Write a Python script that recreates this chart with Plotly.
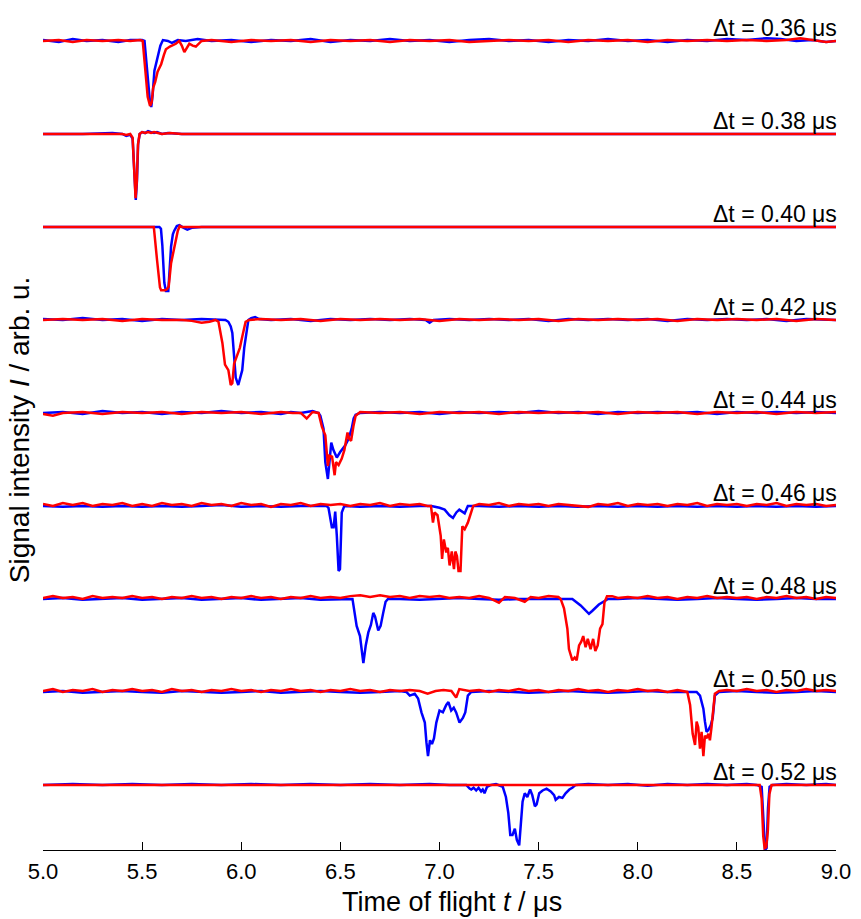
import plotly.graph_objects as go

# Time-of-flight traces for each delay: (t in µs, signal in arb. u.)
delays = ["0.36", "0.38", "0.40", "0.42", "0.44", "0.46", "0.48", "0.50", "0.52"]

blue_036 = [(5.00, 0.01), (5.08, -0.01), (5.15, 0.02), (5.22, 0.00), (5.30, 0.01), (5.38, -0.01), (5.44, 0.01),
            (5.50, 0.01), (5.512, 0.00), (5.525, -0.35), (5.538, -0.62), (5.546, -0.71), (5.553, -0.58),
            (5.562, -0.32), (5.572, -0.23), (5.582, -0.16), (5.592, -0.05), (5.605, 0.01), (5.63, 0.00),
            (5.65, -0.02), (5.68, 0.01), (5.72, 0.00), (5.78, 0.02), (5.85, 0.00), (5.95, 0.01), (6.05, -0.01),
            (6.15, 0.01), (6.25, 0.00), (6.35, 0.02), (6.45, -0.01), (6.55, 0.01), (6.65, 0.00), (6.75, 0.02),
            (6.85, 0.00), (6.95, 0.01), (7.05, -0.01), (7.15, 0.01), (7.25, 0.02), (7.35, 0.00), (7.45, 0.01),
            (7.55, -0.01), (7.65, 0.01), (7.75, 0.00), (7.85, 0.02), (7.95, 0.00), (8.05, 0.01), (8.15, -0.01),
            (8.25, 0.01), (8.35, 0.00), (8.45, 0.02), (8.55, 0.01), (8.65, 0.03), (8.72, 0.02), (8.80, 0.00),
            (8.88, 0.01), (8.95, -0.01), (9.00, 0.00)]
red_036 = [(5.00, 0.00), (5.08, 0.01), (5.15, -0.01), (5.22, 0.01), (5.30, 0.00), (5.38, 0.01), (5.44, 0.00),
           (5.49, 0.01), (5.503, 0.00), (5.515, -0.30), (5.528, -0.60), (5.54, -0.70), (5.548, -0.66),
           (5.556, -0.50), (5.566, -0.44), (5.578, -0.33), (5.596, -0.25), (5.61, -0.15), (5.62, -0.09),
           (5.64, -0.06), (5.67, -0.03), (5.687, 0.00), (5.70, -0.05), (5.713, -0.12), (5.725, -0.07),
           (5.738, -0.03), (5.755, -0.05), (5.771, -0.06), (5.80, 0.00), (5.85, 0.01), (5.95, -0.01),
           (6.05, 0.01), (6.15, 0.00), (6.25, 0.01), (6.35, -0.01), (6.45, 0.01), (6.55, 0.00), (6.65, 0.01),
           (6.75, -0.01), (6.85, 0.01), (6.95, 0.00), (7.05, 0.01), (7.15, -0.01), (7.25, 0.00), (7.35, 0.01),
           (7.45, 0.00), (7.55, 0.01), (7.65, -0.01), (7.75, 0.01), (7.85, 0.00), (7.95, 0.01), (8.05, -0.01),
           (8.15, 0.01), (8.25, 0.00), (8.35, 0.01), (8.45, 0.00), (8.55, 0.01), (8.65, 0.00), (8.75, 0.01),
           (8.82, 0.03), (8.88, 0.01), (8.95, -0.01), (9.00, 0.00)]

blue_038 = [(5.00, 0.00), (5.20, 0.00), (5.35, 0.01), (5.40, 0.00), (5.42, -0.02), (5.44, -0.01),
            (5.452, -0.05), (5.462, -0.45), (5.468, -0.71), (5.474, -0.50), (5.48, -0.10), (5.488, 0.00),
            (5.50, 0.02), (5.515, 0.01), (5.53, 0.03), (5.545, 0.02), (5.56, 0.01), (5.575, 0.02), (5.60, 0.00),
            (5.63, 0.01), (5.70, 0.00), (6.00, 0.00), (6.50, 0.00), (7.00, 0.00), (7.50, 0.00), (8.00, 0.00),
            (8.50, 0.00), (9.00, 0.00)]
red_038 = [(5.00, 0.00), (5.20, 0.00), (5.35, 0.00), (5.40, 0.00), (5.42, -0.01), (5.44, 0.00),
           (5.452, -0.04), (5.461, -0.42), (5.467, -0.69), (5.473, -0.52), (5.479, -0.12), (5.487, 0.00),
           (5.50, 0.02), (5.515, 0.01), (5.53, 0.02), (5.545, 0.01), (5.56, 0.02), (5.58, 0.01), (5.60, 0.00),
           (5.64, 0.01), (5.70, 0.00), (6.00, 0.00), (6.50, 0.00), (7.00, 0.00), (7.50, 0.00), (8.00, 0.00),
           (8.50, 0.00), (9.00, 0.00)]

blue_040 = [(5.00, 0.00), (5.20, 0.00), (5.40, 0.00), (5.55, 0.00), (5.587, 0.00), (5.595, -0.02),
            (5.602, -0.20), (5.612, -0.60), (5.62, -0.69), (5.632, -0.69), (5.64, -0.45), (5.646, -0.21),
            (5.655, -0.08), (5.662, -0.04), (5.675, 0.01), (5.688, 0.02), (5.71, -0.01), (5.728, -0.03),
            (5.75, -0.01), (5.80, 0.00), (6.00, 0.00), (6.50, 0.00), (7.00, 0.00), (7.50, 0.00), (8.00, 0.00),
            (8.50, 0.00), (9.00, 0.00)]
red_040 = [(5.00, 0.00), (5.20, 0.00), (5.40, 0.00), (5.55, 0.00), (5.559, 0.00), (5.575, -0.35),
           (5.59, -0.65), (5.596, -0.68), (5.615, -0.68), (5.625, -0.67), (5.634, -0.64), (5.646, -0.39),
           (5.66, -0.25), (5.671, -0.14), (5.68, -0.04), (5.69, 0.01), (5.70, 0.00), (6.00, 0.00), (6.50, 0.00),
           (7.00, 0.00), (7.50, 0.00), (8.00, 0.00), (8.50, 0.00), (9.00, 0.00)]

blue_042 = [(5.00, 0.01), (5.10, 0.00), (5.20, 0.02), (5.30, 0.00), (5.40, 0.01), (5.50, -0.01), (5.60, 0.01),
            (5.70, 0.00), (5.80, 0.01), (5.88, 0.00), (5.92, 0.00), (5.935, -0.02), (5.947, -0.07),
            (5.955, -0.14), (5.964, -0.43), (5.972, -0.62), (5.985, -0.70), (5.997, -0.61), (6.005, -0.54),
            (6.015, -0.30), (6.022, -0.18), (6.03, -0.05), (6.036, 0.00), (6.05, 0.02), (6.07, 0.03),
            (6.09, 0.01), (6.15, 0.00), (6.25, 0.01), (6.35, -0.01), (6.45, 0.01), (6.55, 0.00), (6.65, 0.01),
            (6.75, 0.00), (6.85, 0.01), (6.93, 0.00), (6.95, -0.03), (6.97, 0.00), (7.05, 0.01), (7.15, 0.00),
            (7.25, 0.01), (7.35, 0.00), (7.45, 0.01), (7.55, -0.01), (7.65, 0.01), (7.75, 0.00), (7.85, 0.01),
            (7.95, 0.00), (8.05, 0.01), (8.15, -0.01), (8.25, 0.01), (8.35, 0.00), (8.45, 0.01), (8.55, 0.00),
            (8.65, 0.01), (8.75, -0.01), (8.85, 0.01), (8.95, 0.00), (9.00, 0.00)]
red_042 = [(5.00, 0.00), (5.10, 0.01), (5.20, 0.00), (5.30, 0.01), (5.40, -0.01), (5.50, 0.01), (5.60, 0.00),
           (5.70, 0.00), (5.75, -0.01), (5.80, -0.03), (5.84, -0.02), (5.87, 0.00), (5.885, -0.02),
           (5.895, -0.12), (5.905, -0.25), (5.918, -0.48), (5.928, -0.52), (5.935, -0.54), (5.947, -0.70),
           (5.955, -0.68), (5.964, -0.47), (5.972, -0.42), (5.98, -0.39), (5.993, -0.30), (6.005, -0.18),
           (6.015, -0.06), (6.022, -0.02), (6.04, 0.00), (6.10, 0.01), (6.20, 0.00), (6.30, 0.01),
           (6.40, -0.01), (6.50, 0.01), (6.60, 0.00), (6.70, 0.01), (6.80, 0.00), (6.90, 0.01), (7.00, -0.01),
           (7.10, 0.01), (7.20, 0.00), (7.30, 0.01), (7.40, 0.00), (7.50, 0.01), (7.60, -0.01), (7.70, 0.01),
           (7.80, 0.00), (7.90, 0.01), (8.00, 0.00), (8.10, 0.01), (8.20, -0.01), (8.30, 0.01), (8.40, 0.00),
           (8.50, 0.01), (8.60, 0.00), (8.70, 0.01), (8.80, -0.01), (8.90, 0.01), (9.00, 0.00)]

blue_044 = [(5.00, 0.00), (5.10, 0.01), (5.20, -0.01), (5.30, 0.02), (5.40, 0.00), (5.50, 0.01),
            (5.60, -0.01), (5.70, 0.01), (5.80, 0.00), (5.90, 0.02), (6.00, 0.00), (6.10, 0.01),
            (6.20, -0.01), (6.25, 0.01), (6.30, 0.00), (6.36, 0.02), (6.39, 0.00), (6.399, -0.03),
            (6.415, -0.17), (6.424, -0.53), (6.437, -0.71), (6.445, -0.53), (6.454, -0.32), (6.465, -0.40),
            (6.482, -0.48), (6.499, -0.42), (6.524, -0.35), (6.541, -0.28), (6.557, -0.17), (6.567, -0.06),
            (6.577, -0.02), (6.60, 0.00), (6.70, 0.01), (6.80, 0.00), (6.90, 0.01), (7.00, -0.01), (7.10, 0.01),
            (7.20, 0.00), (7.30, 0.01), (7.40, 0.00), (7.50, 0.02), (7.60, 0.00), (7.70, 0.01), (7.80, -0.01),
            (7.90, 0.01), (8.00, 0.00), (8.10, 0.01), (8.20, 0.00), (8.30, 0.01), (8.40, -0.01), (8.50, 0.01),
            (8.60, 0.00), (8.70, 0.01), (8.80, 0.00), (8.90, 0.01), (9.00, 0.00)]
red_044 = [(5.00, -0.01), (5.05, -0.03), (5.10, 0.00), (5.20, 0.01), (5.30, -0.01), (5.40, 0.01),
           (5.50, 0.00), (5.60, 0.01), (5.70, -0.01), (5.80, 0.01), (5.90, 0.00), (6.00, 0.01), (6.10, -0.01),
           (6.20, 0.01), (6.26, 0.00), (6.30, 0.00), (6.33, -0.06), (6.36, 0.01), (6.39, 0.00),
           (6.407, -0.15), (6.424, -0.24), (6.437, -0.57), (6.445, -0.46), (6.458, -0.47), (6.471, -0.67),
           (6.478, -0.53), (6.491, -0.56), (6.507, -0.49), (6.52, -0.40), (6.536, -0.21), (6.545, -0.28),
           (6.554, -0.30), (6.566, -0.14), (6.577, -0.03), (6.60, 0.01), (6.70, 0.00), (6.80, 0.01),
           (6.90, -0.01), (7.00, 0.01), (7.10, 0.00), (7.20, 0.01), (7.30, -0.01), (7.40, 0.01), (7.50, 0.00),
           (7.60, 0.01), (7.70, 0.00), (7.80, 0.01), (7.90, -0.01), (8.00, 0.01), (8.10, 0.00), (8.20, 0.01),
           (8.30, -0.01), (8.40, 0.01), (8.50, 0.00), (8.60, 0.01), (8.70, -0.01), (8.80, 0.01), (8.90, 0.00),
           (9.00, 0.01)]

blue_046 = [(5.00, 0.00), (5.10, -0.01), (5.20, 0.00), (5.30, -0.01), (5.40, 0.00), (5.50, -0.01),
            (5.60, 0.00), (5.70, -0.01), (5.80, 0.00), (5.90, 0.01), (6.00, -0.01), (6.10, 0.00),
            (6.20, -0.01), (6.30, 0.00), (6.40, 0.00), (6.43, 0.00), (6.44, -0.02), (6.457, -0.23),
            (6.466, -0.23), (6.474, -0.06), (6.482, -0.32), (6.491, -0.70), (6.498, -0.68), (6.507, -0.07),
            (6.52, 0.00), (6.60, -0.01), (6.70, 0.00), (6.80, -0.01), (6.90, 0.00), (6.959, 0.00),
            (7.00, -0.02), (7.026, -0.04), (7.05, -0.10), (7.068, -0.13), (7.085, -0.07), (7.10, -0.04),
            (7.127, -0.08), (7.143, 0.00), (7.20, 0.00), (7.30, -0.01), (7.40, 0.00), (7.50, -0.01),
            (7.60, 0.00), (7.70, -0.01), (7.80, 0.00), (7.90, -0.01), (8.00, 0.00), (8.10, -0.01), (8.20, 0.00),
            (8.30, -0.01), (8.40, 0.00), (8.50, -0.01), (8.60, 0.00), (8.70, -0.01), (8.80, 0.00),
            (8.90, -0.01), (9.00, 0.00)]
red_046 = [(5.00, 0.02), (5.05, 0.00), (5.10, 0.03), (5.15, 0.01), (5.20, 0.03), (5.25, 0.00), (5.30, 0.02),
           (5.35, 0.01), (5.40, 0.03), (5.45, 0.00), (5.50, 0.02), (5.55, 0.00), (5.60, 0.03), (5.65, 0.01),
           (5.70, 0.02), (5.75, 0.00), (5.80, 0.03), (5.85, 0.01), (5.90, 0.02), (5.95, 0.00), (6.00, 0.03),
           (6.05, 0.01), (6.10, 0.02), (6.15, -0.01), (6.20, 0.02), (6.25, 0.01), (6.30, 0.03), (6.35, 0.00),
           (6.40, 0.02), (6.45, 0.01), (6.50, 0.02), (6.55, 0.00), (6.60, 0.02), (6.65, 0.01), (6.70, 0.03),
           (6.75, 0.00), (6.80, 0.02), (6.85, 0.01), (6.90, 0.02), (6.94, 0.00), (6.957, 0.00),
           (6.967, -0.18), (6.975, -0.07), (6.99, -0.10), (7.006, -0.32), (7.013, -0.57), (7.022, -0.36),
           (7.034, -0.50), (7.042, -0.45), (7.051, -0.64), (7.062, -0.49), (7.073, -0.68), (7.08, -0.49),
           (7.088, -0.54), (7.096, -0.70), (7.106, -0.70), (7.115, -0.22), (7.127, -0.25), (7.143, -0.18),
           (7.16, -0.07), (7.17, 0.00), (7.20, 0.02), (7.25, 0.01), (7.30, 0.03), (7.35, 0.00), (7.40, 0.02),
           (7.45, 0.01), (7.50, 0.02), (7.55, 0.00), (7.60, 0.02), (7.65, 0.01), (7.70, 0.00), (7.75, -0.01),
           (7.80, 0.02), (7.85, 0.01), (7.90, 0.03), (7.95, 0.00), (8.00, 0.02), (8.05, 0.01), (8.10, 0.02),
           (8.15, 0.00), (8.20, 0.02), (8.25, 0.01), (8.30, 0.03), (8.35, 0.00), (8.40, 0.02), (8.45, 0.01),
           (8.50, 0.02), (8.55, 0.00), (8.60, 0.02), (8.65, 0.01), (8.70, 0.03), (8.75, 0.00), (8.80, 0.02),
           (8.85, 0.01), (8.90, 0.02), (8.95, 0.00), (9.00, 0.01)]

blue_048 = [(5.00, 0.00), (5.10, 0.01), (5.20, -0.01), (5.30, 0.00), (5.40, 0.01), (5.50, -0.01),
            (5.60, 0.00), (5.70, 0.01), (5.80, -0.01), (5.90, 0.00), (6.00, 0.01), (6.10, -0.01),
            (6.20, 0.00), (6.30, 0.01), (6.40, -0.01), (6.50, 0.00), (6.561, 0.00), (6.582, -0.29),
            (6.599, -0.40), (6.616, -0.69), (6.628, -0.50), (6.641, -0.36), (6.654, -0.28), (6.666, -0.15),
            (6.675, -0.19), (6.691, -0.34), (6.703, -0.29), (6.716, -0.15), (6.728, -0.03), (6.74, 0.00),
            (6.80, 0.00), (6.90, -0.01), (7.00, 0.00), (7.10, 0.01), (7.20, 0.00), (7.30, -0.01), (7.40, 0.00),
            (7.50, 0.00), (7.60, 0.00), (7.67, 0.00), (7.712, -0.07), (7.754, -0.16), (7.77, -0.13),
            (7.804, -0.06), (7.85, 0.00), (7.90, 0.00), (8.00, 0.01), (8.10, 0.00), (8.20, -0.01),
            (8.30, 0.00), (8.40, 0.01), (8.50, 0.00), (8.60, -0.01), (8.70, 0.00), (8.80, 0.01), (8.90, 0.00),
            (9.00, 0.00)]
red_048 = [(5.00, 0.01), (5.05, 0.03), (5.10, 0.01), (5.15, 0.02), (5.20, 0.00), (5.25, 0.03), (5.30, 0.01),
           (5.35, 0.02), (5.40, 0.01), (5.45, 0.03), (5.50, 0.01), (5.55, 0.02), (5.60, 0.00), (5.65, 0.02),
           (5.70, 0.01), (5.75, 0.03), (5.80, 0.01), (5.85, 0.02), (5.90, 0.00), (5.95, 0.02), (6.00, 0.01),
           (6.05, 0.03), (6.10, 0.01), (6.15, 0.02), (6.20, 0.00), (6.25, 0.02), (6.30, 0.01), (6.35, 0.03),
           (6.40, 0.01), (6.45, 0.02), (6.50, 0.01), (6.55, 0.03), (6.60, 0.04), (6.65, 0.02), (6.70, 0.04),
           (6.75, 0.02), (6.80, 0.03), (6.85, 0.01), (6.90, 0.03), (6.95, 0.02), (7.00, 0.03), (7.05, 0.01),
           (7.10, 0.02), (7.15, 0.01), (7.20, 0.03), (7.25, 0.01), (7.30, -0.04), (7.33, 0.02), (7.38, 0.01),
           (7.43, -0.03), (7.46, 0.02), (7.50, 0.01), (7.55, 0.03), (7.60, 0.02), (7.611, 0.00),
           (7.628, -0.10), (7.645, -0.32), (7.653, -0.54), (7.67, -0.66), (7.682, -0.63), (7.692, -0.66),
           (7.704, -0.50), (7.715, -0.46), (7.725, -0.40), (7.737, -0.52), (7.748, -0.43), (7.762, -0.54),
           (7.775, -0.43), (7.786, -0.56), (7.798, -0.50), (7.81, -0.32), (7.822, -0.27), (7.832, -0.04),
           (7.845, 0.03), (7.871, 0.03), (7.90, 0.01), (7.95, 0.02), (8.00, 0.01), (8.05, 0.03), (8.10, 0.01),
           (8.15, 0.02), (8.20, 0.00), (8.25, 0.02), (8.30, 0.01), (8.35, 0.03), (8.40, 0.01), (8.45, 0.02),
           (8.50, 0.01), (8.55, 0.02), (8.60, 0.00), (8.65, 0.02), (8.70, 0.01), (8.75, 0.03), (8.80, 0.01),
           (8.85, 0.02), (8.90, 0.00), (8.95, 0.02), (9.00, 0.01)]

blue_050 = [(5.00, 0.00), (5.10, 0.01), (5.20, -0.01), (5.30, 0.00), (5.40, 0.01), (5.50, 0.00),
            (5.60, -0.01), (5.70, 0.01), (5.80, 0.00), (5.90, -0.01), (6.00, 0.00), (6.10, 0.01),
            (6.20, -0.01), (6.30, 0.00), (6.40, 0.01), (6.50, 0.00), (6.60, -0.01), (6.70, 0.00),
            (6.80, 0.01), (6.833, 0.00), (6.85, -0.04), (6.875, -0.02), (6.892, -0.07), (6.909, -0.22),
            (6.926, -0.33), (6.934, -0.54), (6.942, -0.69), (6.952, -0.52), (6.962, -0.56), (6.972, -0.50),
            (6.984, -0.33), (7.00, -0.20), (7.017, -0.22), (7.034, -0.14), (7.045, -0.11), (7.059, -0.20),
            (7.072, -0.17), (7.084, -0.22), (7.101, -0.33), (7.118, -0.28), (7.13, -0.22), (7.143, -0.04),
            (7.16, 0.00), (7.25, 0.01), (7.35, 0.00), (7.45, -0.01), (7.55, 0.00), (7.65, 0.01), (7.75, 0.00),
            (7.85, -0.01), (7.95, 0.00), (8.05, 0.01), (8.15, 0.00), (8.25, 0.00), (8.297, 0.00),
            (8.314, -0.04), (8.331, -0.18), (8.339, -0.32), (8.347, -0.43), (8.356, -0.41), (8.368, -0.36),
            (8.378, -0.28), (8.389, -0.04), (8.41, 0.00), (8.50, 0.01), (8.60, 0.00), (8.70, -0.01),
            (8.80, 0.00), (8.90, 0.01), (9.00, 0.00)]
red_050 = [(5.00, 0.01), (5.05, 0.03), (5.10, 0.00), (5.15, 0.02), (5.20, 0.01), (5.25, 0.03), (5.30, 0.00),
           (5.35, 0.02), (5.40, 0.01), (5.45, 0.03), (5.50, 0.01), (5.55, 0.02), (5.60, 0.00), (5.65, 0.03),
           (5.70, 0.01), (5.75, 0.02), (5.80, 0.00), (5.85, 0.02), (5.90, 0.01), (5.95, 0.03), (6.00, 0.01),
           (6.05, 0.02), (6.10, 0.00), (6.15, 0.02), (6.20, 0.01), (6.25, 0.03), (6.30, 0.01), (6.35, 0.02),
           (6.40, 0.00), (6.45, 0.02), (6.50, 0.01), (6.55, 0.03), (6.60, 0.01), (6.65, 0.02), (6.70, 0.00),
           (6.75, 0.02), (6.80, 0.01), (6.85, 0.02), (6.90, 0.01), (6.94, -0.02), (6.98, 0.01), (7.02, 0.02),
           (7.06, 0.01), (7.084, -0.06), (7.10, 0.03), (7.12, 0.02), (7.15, 0.01), (7.20, 0.02), (7.25, 0.00),
           (7.30, 0.02), (7.35, 0.01), (7.40, 0.03), (7.45, 0.01), (7.50, 0.02), (7.55, 0.00), (7.60, 0.02),
           (7.65, 0.01), (7.70, 0.03), (7.75, 0.01), (7.80, 0.02), (7.85, 0.00), (7.90, 0.02), (7.95, 0.01),
           (8.00, 0.03), (8.05, 0.01), (8.10, 0.02), (8.15, 0.00), (8.20, 0.02), (8.25, 0.00), (8.264, -0.14),
           (8.277, -0.45), (8.289, -0.57), (8.297, -0.32), (8.305, -0.38), (8.314, -0.61), (8.322, -0.43),
           (8.331, -0.69), (8.339, -0.47), (8.347, -0.50), (8.356, -0.45), (8.364, -0.52), (8.372, -0.38),
           (8.381, -0.18), (8.389, -0.02), (8.41, 0.01), (8.45, 0.02), (8.50, 0.01), (8.55, 0.03),
           (8.60, 0.01), (8.65, 0.02), (8.70, 0.00), (8.75, 0.02), (8.80, 0.01), (8.85, 0.03), (8.90, 0.01),
           (8.95, 0.02), (9.00, 0.01)]

blue_052 = [(5.00, 0.00), (5.15, 0.01), (5.30, 0.00), (5.45, 0.01), (5.60, 0.00), (5.75, 0.01), (5.90, 0.00),
            (6.05, 0.01), (6.20, 0.00), (6.35, 0.01), (6.50, 0.00), (6.65, 0.01), (6.80, 0.00), (6.95, 0.01),
            (7.05, 0.00), (7.135, 0.00), (7.152, -0.04), (7.16, -0.05), (7.172, -0.03), (7.185, -0.06),
            (7.197, -0.03), (7.21, -0.07), (7.218, -0.05), (7.227, -0.09), (7.24, -0.02), (7.26, 0.00),
            (7.285, 0.01), (7.319, -0.02), (7.335, -0.13), (7.347, -0.30), (7.357, -0.54), (7.368, -0.54),
            (7.38, -0.47), (7.39, -0.59), (7.402, -0.65), (7.41, -0.38), (7.419, -0.18), (7.43, -0.09),
            (7.443, -0.13), (7.457, -0.05), (7.468, -0.11), (7.481, -0.23), (7.49, -0.21), (7.503, -0.09),
            (7.52, -0.06), (7.54, -0.04), (7.561, -0.07), (7.578, -0.11), (7.586, -0.16), (7.603, -0.13),
            (7.62, -0.14), (7.636, -0.09), (7.655, -0.05), (7.67, -0.03), (7.687, 0.00), (7.75, 0.01),
            (7.85, 0.00), (7.95, 0.01), (8.05, -0.01), (8.15, 0.01), (8.25, 0.00), (8.35, 0.01), (8.45, 0.00),
            (8.55, 0.01), (8.60, 0.00), (8.625, -0.02), (8.635, -0.40), (8.642, -0.70), (8.65, -0.68),
            (8.657, -0.25), (8.665, -0.02), (8.68, 0.00), (8.75, 0.01), (8.85, 0.00), (8.95, 0.01),
            (9.00, 0.00)]
red_052 = [(5.00, 0.00), (5.20, 0.00), (5.40, 0.00), (5.60, 0.00), (5.80, 0.00), (6.00, 0.00), (6.20, 0.00),
           (6.40, 0.00), (6.60, 0.00), (6.80, 0.00), (7.00, 0.00), (7.20, 0.00), (7.40, 0.00), (7.60, 0.00),
           (7.80, 0.00), (8.00, 0.00), (8.20, 0.00), (8.40, 0.00), (8.60, 0.00), (8.615, 0.00),
           (8.625, -0.15), (8.633, -0.55), (8.64, -0.68), (8.648, -0.67), (8.656, -0.50), (8.664, -0.10),
           (8.675, 0.00), (8.80, 0.00), (9.00, 0.00)]

series = [
    (blue_036, red_036), (blue_038, red_038), (blue_040, red_040),
    (blue_042, red_042), (blue_044, red_044), (blue_046, red_046),
    (blue_048, red_048), (blue_050, red_050), (blue_052, red_052),
]

x_ticks = [5.0, 5.5, 6.0, 6.5, 7.0, 7.5, 8.0, 8.5, 9.0]

BLUE = "#0000FF"
RED = "#FF0000"
FONT = "Liberation Sans Narrow, Liberation Sans, Arial, sans-serif"

fig = go.Figure()
annotations = []
for i, (dt, (blue, red)) in enumerate(zip(delays, series)):
    offset = -i  # each delay stacked one unit below the previous
    for pts, color in ((blue, BLUE), (red, RED)):
        fig.add_trace(go.Scatter(
            x=[p[0] for p in pts],
            y=[p[1] + offset for p in pts],
            mode="lines",
            line=dict(color=color, width=2.5),
            showlegend=False,
            hoverinfo="skip",
        ))
    annotations.append(dict(
        x=1.0, xref="paper", xanchor="right", xshift=3,
        y=offset + 0.135, yref="y", yanchor="middle",
        text=f"\u0394t = {dt} \u03bcs", showarrow=False,
        font=dict(family="Liberation Sans, Arial, sans-serif", size=23, color="black"),
    ))

# Axis titles
annotations.append(dict(
    x=0.516, xref="paper", y=-0.062, yref="paper", xanchor="center", yanchor="middle",
    text="Time of flight <i>t</i> / \u03bcs", showarrow=False,
    font=dict(family=FONT, size=27, color="black"),
))
annotations.append(dict(
    x=-0.03, xref="paper", y=0.5, yref="paper", xanchor="center", yanchor="middle",
    text="Signal intensity <i>I</i> / arb. u.", showarrow=False, textangle=-90,
    font=dict(family=FONT, size=28, color="black"),
))

fig.update_layout(
    width=861, height=919,
    margin=dict(l=43, r=21, t=10, b=69),
    paper_bgcolor="white", plot_bgcolor="white",
    annotations=annotations,
    xaxis=dict(
        range=[5.0, 9.0], tickvals=x_ticks, ticktext=[f"{v:.1f}" for v in x_ticks],
        ticks="inside", ticklen=8, tickwidth=1, tickcolor="black",
        showline=True, linecolor="black", linewidth=1, mirror=False,
        showgrid=False, zeroline=False, ticklabelstandoff=2,
        tickfont=dict(family=FONT, size=22, color="black"),
    ),
    yaxis=dict(
        range=[-8.70, 0.333], showticklabels=False, ticks="", showline=False,
        showgrid=False, zeroline=False,
    ),
)

fig.write_html("out.html")
